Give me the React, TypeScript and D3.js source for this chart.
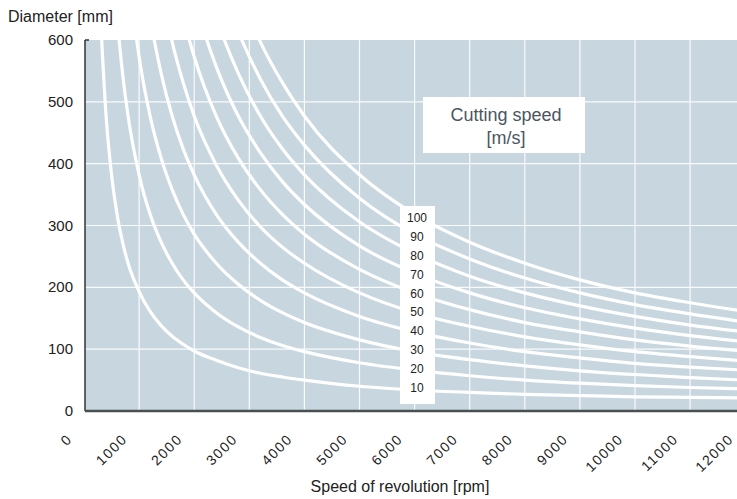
import React from "react";
import * as d3 from "d3";

// Speed of revolution samples [rpm]
const rpm = [300, 400, 500, 600, 700, 800, 1000, 1200, 1400, 1600, 1800, 2000, 2400, 2800, 3200, 3600, 4000, 5000, 6000, 7000, 8000, 9000, 10000, 11000, 12000];

// Diameter [mm]
const v10 = [637, 478, 382, 318, 273, 239, 193, 161, 138, 121, 108, 97, 82, 70, 61, 55, 50, 40, 34, 30, 27, 25, 23, 22, 21];
const v20 = [1273, 955, 764, 637, 546, 477, 382, 318, 273, 239, 212, 191, 159, 136, 119, 106, 96, 78, 66, 57, 50, 45, 41, 38, 36];
const v30 = [1910, 1432, 1146, 955, 818, 716, 573, 477, 409, 358, 318, 286, 239, 205, 179, 159, 143, 115, 96, 83, 73, 65, 59, 54, 50];
const v40 = [2546, 1910, 1528, 1273, 1091, 955, 764, 637, 546, 477, 424, 382, 318, 273, 239, 212, 191, 153, 128, 110, 96, 86, 77, 71, 66];
const v50 = [3183, 2387, 1910, 1592, 1364, 1194, 955, 796, 682, 597, 531, 477, 398, 341, 298, 265, 239, 191, 159, 137, 120, 107, 96, 88, 81];
const v60 = [3820, 2865, 2292, 1910, 1637, 1432, 1146, 955, 818, 716, 637, 573, 477, 409, 358, 318, 286, 229, 191, 164, 143, 128, 115, 105, 97];
const v70 = [4456, 3342, 2674, 2228, 1910, 1671, 1337, 1114, 955, 836, 743, 668, 557, 477, 418, 371, 334, 267, 223, 191, 167, 149, 134, 122, 112];
const v80 = [5093, 3820, 3056, 2546, 2183, 1910, 1528, 1273, 1091, 955, 849, 764, 637, 546, 477, 424, 382, 306, 255, 218, 191, 170, 153, 139, 128];
const v90 = [5730, 4297, 3438, 2865, 2456, 2149, 1719, 1432, 1228, 1074, 955, 859, 716, 614, 537, 477, 430, 344, 286, 246, 215, 191, 172, 157, 144];
const v100 = [6366, 4775, 3820, 3183, 2728, 2387, 1910, 1592, 1364, 1194, 1061, 955, 796, 682, 597, 531, 477, 382, 318, 273, 239, 212, 191, 175, 161];

const speeds = [10, 20, 30, 40, 50, 60, 70, 80, 90, 100];
const series = [v10, v20, v30, v40, v50, v60, v70, v80, v90, v100];

const xTicks = [0, 1000, 2000, 3000, 4000, 5000, 6000, 7000, 8000, 9000, 10000, 11000, 12000];
const yTicks = [0, 100, 200, 300, 400, 500, 600];

const W = 737;
const H = 499;
const FONT = "'Liberation Sans', Arial, sans-serif";

export default function App() {
  const x = d3.scaleLinear().domain([0, 12000]).range([84, 745.2]);
  const y = d3.scaleLinear().domain([0, 600]).range([411, 40]);
  const plotLeft = 85;
  const plotTop = y(600);
  const plotBottom = y(0);

  const line = d3
    .line<number>()
    .x((_, i) => x(rpm[i]))
    .y((d) => y(d))
    .curve(d3.curveMonotoneX);

  const labelY = d3.scalePoint<number>().domain([...speeds].reverse()).range([218, 388]);

  return (
    <svg
      width={W}
      height={H}
      style={{ position: "absolute", left: 0, top: 0, background: "#fff" }}
      fontFamily={FONT}
    >
      <defs>
        <clipPath id="plot">
          <rect x={plotLeft} y={plotTop} width={W - plotLeft} height={plotBottom - plotTop} />
        </clipPath>
      </defs>
      <rect x={plotLeft} y={plotTop} width={W - plotLeft} height={plotBottom - plotTop} fill="#c8d6e0" />
      {/* grid */}
      <g stroke="#ffffff" strokeWidth={1.2} opacity={0.9}>
        {xTicks.filter((t) => t > 0).map((t) => (
          <line key={"gx" + t} x1={x(t)} x2={x(t)} y1={plotTop} y2={plotBottom} />
        ))}
        {yTicks.filter((t) => t > 0 && t < 600).map((t) => (
          <line key={"gy" + t} x1={plotLeft} x2={W} y1={y(t)} y2={y(t)} />
        ))}
      </g>
      {/* curves */}
      <g clipPath="url(#plot)" fill="none" stroke="#ffffff" strokeWidth={3.2} strokeLinecap="round">
        {series.map((s, i) => (
          <path key={"c" + speeds[i]} d={line(s) || ""} />
        ))}
      </g>
      {/* axes */}
      <line x1={plotLeft} x2={plotLeft} y1={plotTop} y2={plotBottom} stroke="#333" strokeWidth={1.5} />
      <line x1={plotLeft} x2={plotLeft + 4} y1={plotTop} y2={plotTop} stroke="#333" strokeWidth={1.5} />
      <line x1={plotLeft} x2={W} y1={plotBottom} y2={plotBottom} stroke="#4a4f52" strokeWidth={2.5} />
      {/* y tick labels */}
      {yTicks.map((t) => (
        <text key={"yl" + t} x={73} y={y(t) + 5} textAnchor="end" fontSize={15} fill="#222">
          {t}
        </text>
      ))}
      {/* x tick labels */}
      {xTicks.map((t) => (
        <text
          key={"xl" + t}
          transform={`translate(${x(t) - 11},${440}) rotate(-45)`}
          textAnchor="end"
          fontSize={14}
          letterSpacing={1.5}
          fill="#222"
        >
          {t}
        </text>
      ))}
      {/* axis titles */}
      <text x={8} y={22} fontSize={16} fill="#222">
        Diameter [mm]
      </text>
      <text x={400} y={492} textAnchor="middle" fontSize={16} fill="#222">
        Speed of revolution [rpm]
      </text>
      {/* legend box */}
      <rect x={423} y={97} width={162} height={56} fill="#ffffff" />
      <text x={506} y={121} textAnchor="middle" fontSize={18} fill="#4a5662">
        Cutting speed
      </text>
      <text x={506} y={144} textAnchor="middle" fontSize={18} fill="#4a5662">
        [m/s]
      </text>
      {/* speed labels */}
      <rect x={400} y={206} width={35} height={198} fill="#ffffff" />
      {speeds.map((s) => (
        <text key={"sl" + s} x={417} y={(labelY(s) || 0) + 4} textAnchor="middle" fontSize={12} fill="#222">
          {s}
        </text>
      ))}
    </svg>
  );
}
